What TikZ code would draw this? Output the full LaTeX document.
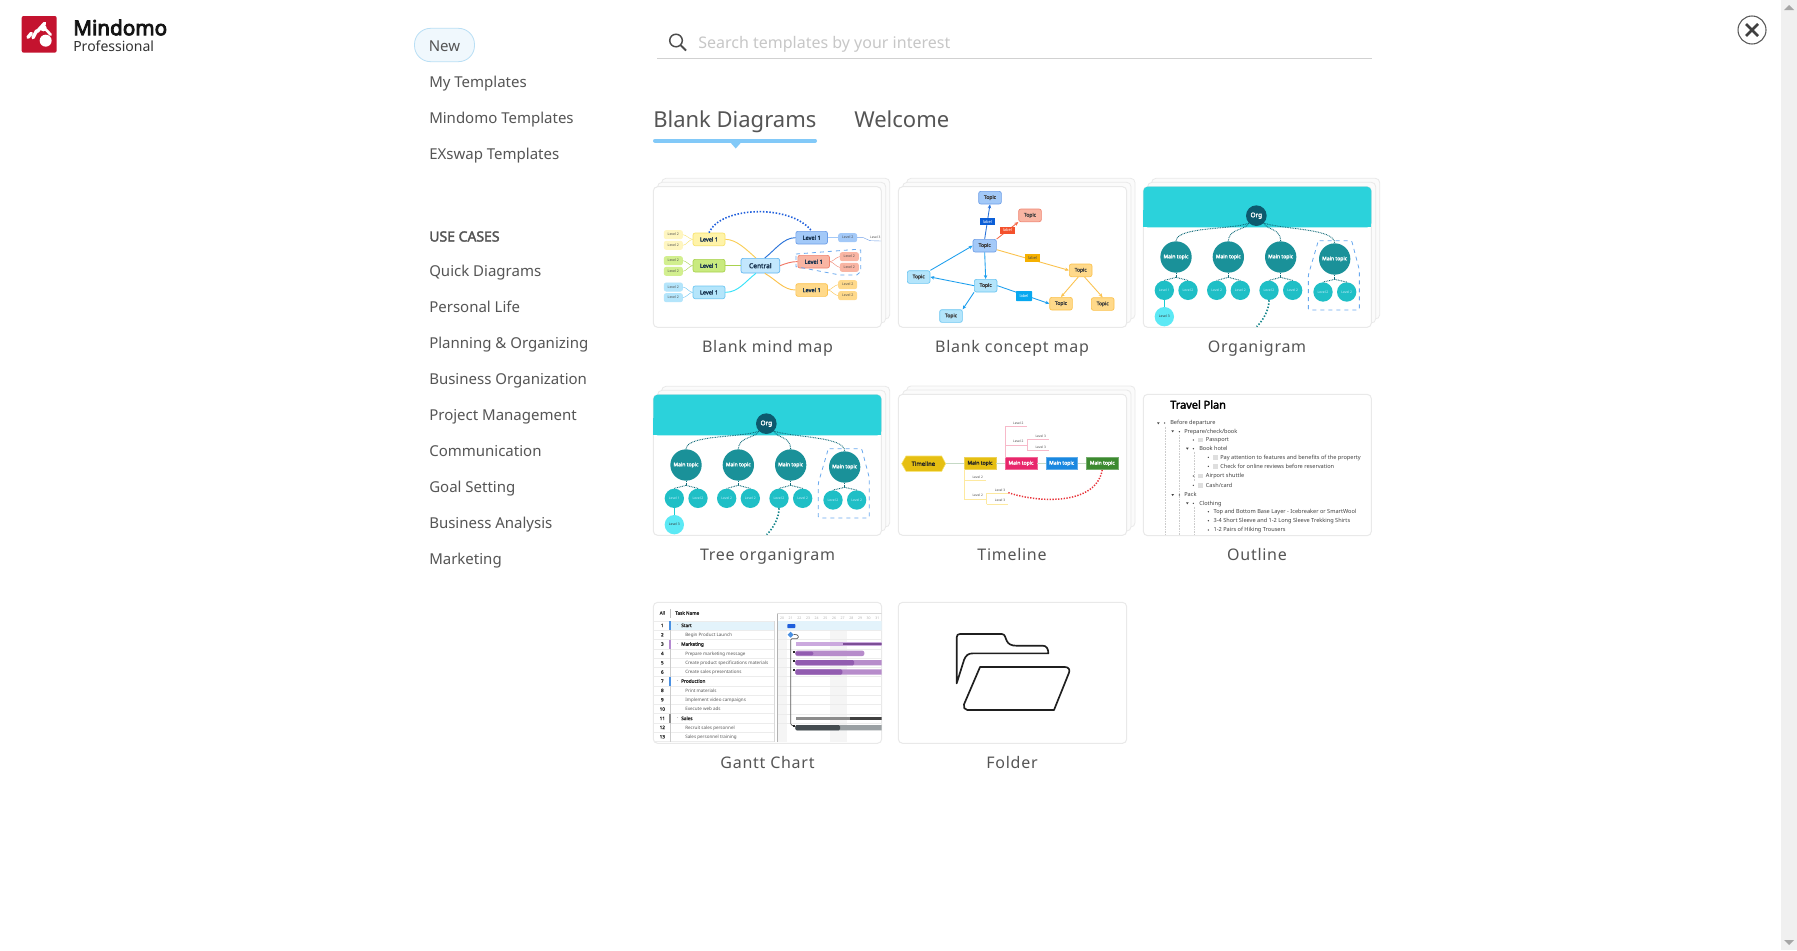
\documentclass[tikz,border=0pt]{standalone}
\usepackage{fontspec}
\setmainfont{Noto Sans}[BoldFont={Noto Sans},BoldFeatures={FakeBold=2.5}]
\usetikzlibrary{arrows.meta,shapes.geometric}
\definecolor{menu}{HTML}{555555}
\definecolor{cardl}{HTML}{E9E9E9}
\definecolor{backf}{HTML}{FBFBFB}
\definecolor{cyanh}{HTML}{2BD2DB}
\definecolor{orgd}{HTML}{0D5A6E}
\definecolor{mainc}{HTML}{1A9199}
\definecolor{levc}{HTML}{1FBFC6}
\definecolor{lev3}{HTML}{5CE9F5}
\definecolor{dashb}{HTML}{6AA9EF}
\definecolor{yelF}{HTML}{FFF3A8}\definecolor{yelD}{HTML}{F7E26B}
\definecolor{yel2}{HTML}{FFF6C0}
\definecolor{grnF}{HTML}{C9EA7F}\definecolor{grnD}{HTML}{A9D24E}
\definecolor{grn2}{HTML}{D2EF8F}
\definecolor{skyF}{HTML}{B4E5FB}\definecolor{skyD}{HTML}{6CC6F2}
\definecolor{bluF}{HTML}{A3C9F8}\definecolor{bluD}{HTML}{6F9FE8}
\definecolor{redF}{HTML}{F9B5A3}\definecolor{redD}{HTML}{F08470}
\definecolor{oraF}{HTML}{FFD98A}\definecolor{oraD}{HTML}{FBC24D}
\definecolor{cenF}{HTML}{C3E7FD}\definecolor{cenD}{HTML}{5FB5F0}
\definecolor{navy}{HTML}{17324F}
\definecolor{logo}{HTML}{C4132F}
\definecolor{purL}{HTML}{B78CCB}\definecolor{purD}{HTML}{925CB0}\definecolor{purS}{HTML}{CBA9DE}
\definecolor{rowl}{HTML}{ECECEC}
\definecolor{orgl}{HTML}{0F6A78}
\definecolor{tabl}{HTML}{82C9F8}
\definecolor{pillF}{HTML}{F0F8FD}\definecolor{pillD}{HTML}{B9DFF5}
\definecolor{gold}{HTML}{E6BF12}\definecolor{pinkm}{HTML}{E8276B}\definecolor{bluem}{HTML}{1A88E0}\definecolor{grnm}{HTML}{3C8A30}
\definecolor{tlline}{HTML}{C5D9C5}\definecolor{tlpink}{HTML}{F7B9C9}\definecolor{tlyel}{HTML}{FDE9A0}\definecolor{tlred}{HTML}{E8333A}
\definecolor{labB}{HTML}{0B5ED7}\definecolor{labR}{HTML}{F4512C}\definecolor{labO}{HTML}{F5B000}\definecolor{labS}{HTML}{07A8F0}
\definecolor{cblue}{HTML}{2A73D9}\definecolor{csky}{HTML}{1E9FEE}
\definecolor{rowh}{HTML}{E3F3FB}\definecolor{barblue}{HTML}{4A90E2}\definecolor{barp}{HTML}{B48AD0}\definecolor{shadec}{HTML}{F5F5F5}
\definecolor{greyL}{HTML}{9AA0A3}\definecolor{greyD}{HTML}{444C50}\definecolor{msblue}{HTML}{1F5FDC}
\newcommand{\fs}[1]{\fontsize{#1}{#1}\selectfont}
\newfontface\spaced[LetterSpace=4.5]{Noto Sans}
\newfontface\brandf[FakeBold=4]{Noto Sans}
\tikzset{
  tx/.style={inner sep=0pt,text height=#1,text depth=0pt},
  tx/.default=9pt,
  menuitem/.style={tx,anchor=west,text=menu,font=\fs{11.25}},
  cardlabel/.style={tx,text=menu,font=\spaced\fs{12}},
  tabtext/.style={tx=12.5pt,text=menu,font=\fs{16.5}},
  bx/.style n args={4}{minimum width=#1*.25pt,minimum height=#2*.25pt,fill=#3,draw=#4,rounded corners=1.6pt,inner sep=0pt,line width=.5pt},
  lone/.style={font=\bfseries\fs{4.2},text=navy},
  ltwo/.style={font=\fs{2.6},text=black!70},
  ctopic/.style={font=\bfseries\fs{3.7},text=black!75},
  clabel/.style={font=\fs{3},inner sep=0pt},
  circ/.style n args={2}{circle,inner sep=0pt,minimum size=#1*.25pt,fill=#2},
  mtopic/.style={font=\bfseries\fs{3.8},text=white},
  ltxt/.style={font=\fs{2.5},text=white!80!cyan},
  mmedge/.style={line width=.7pt},
  arr/.style={line width=.65pt,-{Stealth[length=3pt,width=2.6pt]}},
  orgdot/.style={orgl,line width=.7pt,dash pattern=on .6pt off .65pt},
  tlbox/.style n args={2}{minimum width=95*.25pt,minimum height=34*.25pt,fill=#1,draw=#1!70!white,line width=.4pt,inner sep=0pt,font=\bfseries\fs{3.8},text=#2},
  tlev/.style={font=\fs{2.4},text=black!70,inner sep=0pt},
  ol/.style={anchor=west,tx=2.9pt,font=\fs{4.2},text=black!75},
  gt/.style={anchor=west,tx=2.6pt,font=\fs{3.4},text=black!65},
  gb/.style={anchor=west,tx=2.6pt,font=\bfseries\fs{3.5},text=black!80},
  gn/.style={tx=2.5pt,font=\bfseries\fs{3.4},text=black!80},
  gd/.style={tx=2pt,font=\fs{2.6},text=black!30},
  bul/.style={circle,fill=black!75,inner sep=0pt,minimum size=1.1pt},
  chk/.style={fill=black!13},
  cardbox/.style={draw=cardl,line width=.75pt,rounded corners=3.2pt,fill=white},
  cardback/.style={draw=cardl,line width=.6pt,rounded corners=3.2pt,fill=backf},
}
\newcommand{\stack}[4]{%
  \draw[cardback,shift={(25,-25)}] (#1,#2) rectangle (#3,#4);
  \draw[cardback,shift={(13,-13)}] (#1,#2) rectangle (#3,#4);
  \draw[cardbox] (#1,#2) rectangle (#3,#4);}
\newcommand{\orgchart}[1]{%
  \stack{40}{50}{724}{472}
  \fill[cyanh,rounded corners=3.2pt] (40,172) -- (40,50) -- (724,50) -- (724,172) -- cycle;
  \fill[cyanh] (40,120) rectangle (724,172);
  \node[circ={62}{orgd},font=\bfseries\fs{4.8},text=white] (#1org) at (379,137) {Org};
  \node[circ={94}{mainc},mtopic] (#1m1) at (138,261) {Main topic};
  \node[circ={94}{mainc},mtopic] (#1m2) at (295,261) {Main topic};
  \node[circ={94}{mainc},mtopic] (#1m3) at (452,261) {Main topic};
  \node[circ={94}{mainc},mtopic] (#1m4) at (614,267) {Main topic};
  \node[circ={58}{levc},ltxt] (#1a1) at (103,361) {Level 1};
  \node[circ={58}{levc},ltxt] (#1a2) at (174,361) {Level 2};
  \node[circ={58}{levc},ltxt] (#1b1) at (260,361) {Level 2};
  \node[circ={58}{levc},ltxt] (#1b2) at (331,361) {Level 2};
  \node[circ={58}{levc},ltxt] (#1c1) at (417,361) {Level 2};
  \node[circ={58}{levc},ltxt] (#1c2) at (488,361) {Level 2};
  \node[circ={58}{levc},ltxt] (#1d1) at (579,366) {Level 2};
  \node[circ={58}{levc},ltxt] (#1d2) at (650,366) {Level 2};
  \node[circ={58}{lev3},font=\fs{2.5},text=black!80] (#1e) at (103,440) {Level 3};
  \coordinate (#1free) at (380,470);
  \draw[orgdot] (#1org.south west) .. controls (300,180) and (140,170) .. (#1m1.north);
  \draw[orgdot] (#1org.south west) .. controls (350,180) and (295,175) .. (#1m2.north);
  \draw[orgdot] (#1org.south east) .. controls (410,180) and (452,175) .. (#1m3.north);
  \draw[orgdot] (#1org.south east) .. controls (470,180) and (612,175) .. (#1m4.north);
  \coordinate (#1ja) at (138,322);\coordinate (#1jb) at (295,322);\coordinate (#1jc) at (452,322);\coordinate (#1jd) at (614,328);
  \foreach \p/\q in {ja/a1,ja/a2,jb/b1,jb/b2,jc/c1,jc/c2,jd/d1,jd/d2}{
    \draw[orgdot] (#1\p) -- (#1\q.north);}
  \draw[orgdot] (#1m1.south) -- (#1ja);\draw[orgdot] (#1m2.south) -- (#1jb);\draw[orgdot] (#1m3.south) -- (#1jc);\draw[orgdot] (#1m4.south) -- (#1jd);
  \draw[levc!80!cyan,line width=.6pt] (#1a1.south) -- (#1e.north);
  \draw[levc!70!black,line width=1.2pt,dash pattern=on 1.1pt off 1.3pt] (#1c1.south) .. controls (417,420) and (400,450) .. (#1free);
  \draw[dashb,line width=.6pt,dashed,rounded corners=1pt] (565,212) -- (665,212) -- (688,300) -- (688,420) -- (535,420) -- (535,315) -- cycle;
}
\begin{document}
\begin{tikzpicture}[x=.75pt,y=-.75pt]
\useasboundingbox (0,0) rectangle (1797,950);
\fill[white] (0,0) rectangle (1797,950);
% scrollbar
\fill[black!6] (1781,0) rectangle (1797,950);
\fill[black!35] (1784,10) -- (1794,10) -- (1789,5) -- cycle;
\fill[black!35] (1784,940) -- (1794,940) -- (1789,945) -- cycle;
% logo
\begin{scope}[x=.25pt,y=-.25pt]
\fill[logo,rounded corners=1.5pt] (65,48) -- (170,48) -- (170,158) -- (65,158) -- cycle;
\fill[white] (137,122) circle (18);
\fill[white] (130,84) circle (10);
\draw[white,line width=2.6pt,line cap=round] (84,112) -- (94,100);
\draw[white,line width=2.6pt,line cap=round] (99,113) -- (110,92);
\draw[white,line width=2.6pt,line cap=round] (112,94) -- (134,70);
\draw[white,line width=2pt,line cap=round] (137,88) -- (152,104);
\end{scope}
\node[anchor=west,tx=10.8pt,font=\brandf\fs{15.5},text=black!92] (brand) at (73,28) {Mindomo};
\node[anchor=west,tx=7.6pt,font=\fs{10.5},text=black!80] (edition) at (73,46) {Professional};
% close
\node[circle,draw=black!65,line width=.8pt,minimum size=21pt,inner sep=0pt] (close) at (1752,30) {};
\draw[black!75,line width=2pt] (1746,24) -- (1758,36) (1758,24) -- (1746,36);
% menu
\node[draw=pillD,fill=pillF,line width=.6pt,rounded corners=12pt,minimum width=45pt,minimum height=25pt,inner sep=0pt] (newbtn) at (444.5,45) {};
\node[tx,text=menu,font=\fs{11.25}] (newtxt) at (444.5,45) {New};
\node[menuitem] (i1) at (429,81.5) {My Templates};
\node[menuitem] (i2) at (429,117.5) {Mindomo Templates};
\node[menuitem] (i3) at (429,153.5) {EXswap Templates};
\node[menuitem,font=\bfseries\fs{10.5}] (uc) at (429,235.5) {USE CASES};
\node[menuitem] (u1) at (429,270.5) {Quick Diagrams};
\node[menuitem] (u2) at (429,306.5) {Personal Life};
\node[menuitem] (u3) at (429,342.5) {Planning \& Organizing};
\node[menuitem] (u4) at (429,378.5) {Business Organization};
\node[menuitem] (u5) at (429,414.5) {Project Management};
\node[menuitem] (u6) at (429,450.5) {Communication};
\node[menuitem] (u7) at (429,486.5) {Goal Setting};
\node[menuitem] (u8) at (429,522.5) {Business Analysis};
\node[menuitem] (u9) at (429,558.5) {Marketing};
% search
\draw[black!70,line width=1.1pt] (676,40.5) circle (6.3);
\draw[black!70,line width=1.4pt] (680.6,45.2) -- (686,50.5);
\node[menuitem,text=black!22,font=\fs{12}] (search) at (698,42.5) {Search templates by your interest};
\draw[black!18,line width=.9pt] (657,58.5) -- (1372,58.5);
% tabs
\node[tabtext,anchor=west] (tab1) at (653,119) {Blank Diagrams};
\node[tabtext,anchor=west] (tab2) at (854,119) {Welcome};
\draw[tabl,line width=3pt,line cap=round] (655,140.7) -- (815,140.7);
\fill[tabl] (730,142) -- (741.5,142) -- (735.7,148.5) -- cycle;
% ---------- card labels
\node[cardlabel] (c1) at (767.5,346.5) {Blank mind map};
\node[cardlabel] (c2) at (1012,346.5) {Blank concept map};
\node[cardlabel] (c3) at (1257,346.5) {Organigram};
\node[cardlabel] (c4) at (767.5,554.5) {Tree organigram};
\node[cardlabel] (c5) at (1012,554.5) {Timeline};
\node[cardlabel] (c6) at (1257,554.5) {Outline};
\node[cardlabel] (c7) at (767.5,762) {Gantt Chart};
\node[cardlabel] (c8) at (1012,762) {Folder};
% ---------- mind map
\begin{scope}[shift={(640,170)},x=.25pt,y=-.25pt]
\stack{40}{50}{724}{472}
\node[bx={116}{44}{cenF}{cenD},font=\bfseries\fs{5},text=navy] (cen) at (361,287) {Central};
\node[bx={96}{38}{yelF}{yelD},lone] (ly) at (207,208) {Level 1};
\node[bx={96}{38}{grnF}{grnD},lone] (lg) at (207,287) {Level 1};
\node[bx={96}{38}{skyF}{skyD},lone] (ls) at (207,367) {Level 1};
\node[bx={95}{38}{bluF}{bluD},lone] (lb) at (515,203) {Level 1};
\node[bx={95}{38}{redF}{redD},lone] (lr) at (521,275) {Level 1};
\node[bx={95}{38}{oraF}{oraD},lone] (lo) at (515,360) {Level 1};
\foreach \n/\a/\b/\c in {y1/100/194/yel2,y2/100/226/yel2,g1/100/272/grn2,g2/100/304/grn2,s1/100/351/skyF,s2/100/383/skyF,b1/623/203/bluF,r1/628/260/redF,r2/628/292/redF,o1/623/344/oraF,o2/623/377/oraF}{
  \node[bx={55}{25}{\c}{\c},ltwo] (\n) at (\a,\b) {Level 2};}
\node[tlev] (b3) at (706,203) {Level 3};
\coordinate (b3end) at (723,213);
\draw[mmedge,yelD!80!orange] (cen.120) .. controls (320,240) and (290,208) .. (ly.east);
\draw[mmedge,grnD,line width=1.1pt] (cen.west) -- (lg.east);
\draw[mmedge,skyD!50!cyan] (cen.240) .. controls (315,335) and (295,367) .. (ls.east);
\draw[mmedge,cblue] (cen.60) .. controls (405,240) and (430,203) .. (lb.west);
\draw[mmedge,redD!90!red] (cen.east) .. controls (440,280) and (450,275) .. (lr.west);
\draw[mmedge,oraD] (cen.-60) .. controls (410,330) and (430,360) .. (lo.west);
\foreach \u/\v/\c in {ly/y1/yelD,ly/y2/yelD,lg/g1/grnD,lg/g2/grnD,ls/s1/skyD,ls/s2/skyD}{
  \draw[\c,line width=.3pt] (\u.west) .. controls +(-10,0) and +(10,0) .. (\v.east);}
\foreach \u/\v/\c in {lb/b1/bluF,lr/r1/redD,lr/r2/redD,lo/o1/oraD,lo/o2/oraD}{
  \draw[\c,line width=.3pt] (\u.east) .. controls +(10,0) and +(-10,0) .. (\v.west);}
\draw[bluD,line width=.3pt] (b1.east) -- (670,203) -- (690,212) -- (b3end);
\draw[msblue,line width=1.2pt,dash pattern=on 1.1pt off 1.3pt] (ly.north) .. controls (240,110) and (450,100) .. (lb.north);
\draw[dashb,line width=.6pt,dashed] (468,252) -- (650,238) -- (662,240) -- (662,305) -- (650,315) -- (600,315) -- (468,290) -- cycle;
\end{scope}
% ---------- concept map
\begin{scope}[shift={(890,170)},x=.25pt,y=-.25pt]
\stack{25}{50}{710}{472}
\node[bx={68}{38}{bluF}{bluD},ctopic] (t1) at (300,83) {Topic};
\node[bx={68}{38}{redF}{redD},ctopic] (t2) at (420,136) {Topic};
\node[bx={70}{38}{bluF}{bluD},ctopic] (t3) at (284,227) {Topic};
\node[bx={68}{38}{oraF}{oraD},ctopic] (t4) at (572,301) {Topic};
\node[bx={68}{38}{skyF}{skyD},ctopic] (t5) at (86,321) {Topic};
\node[bx={68}{38}{skyF}{skyD},ctopic] (t6) at (287,347) {Topic};
\node[bx={68}{38}{oraF}{oraD},ctopic] (t7) at (513,401) {Topic};
\node[bx={68}{38}{oraF}{oraD},ctopic] (t8) at (638,402) {Topic};
\node[bx={68}{38}{skyF}{skyD},ctopic] (t9) at (183,438) {Topic};
\draw[arr,cblue] (t3.north) -- (t1.south);
\draw[arr,labR!85!white] (t3.north east) -- (t2.south west);
\draw[arr,oraD] ([yshift=-3pt]t3.east) -- (t4.west);
\draw[arr,oraD] (t4.250) -- (t7.north);
\draw[arr,oraD] (t4.-60) -- (t8.north);
\draw[arr,csky] (t3.south) -- (t6.north);
\draw[arr,csky] (t6.west) -- (t5.east);
\draw[arr,csky] (t5.north east) -- (t3.west);
\draw[arr,csky] (t6.east) -- (t7.west);
\draw[arr,csky] (t6.south west) -- (t9.north east);
\node[clabel,fill=labB,text=white,minimum width=11pt,minimum height=5.5pt] (lab1) at (292,155) {label};
\node[clabel,fill=labR,text=white,minimum width=11pt,minimum height=5.5pt] (lab2) at (352,181) {label};
\node[clabel,fill=labO,text=black!70,minimum width=11pt,minimum height=5.5pt] (lab3) at (428,264) {label};
\node[clabel,fill=labS,text=white,minimum width=12pt,minimum height=7.5pt,rounded corners=.5pt] (lab4) at (402,378) {label};
\end{scope}
% ---------- organigrams
\begin{scope}[shift={(1130,170)},x=.25pt,y=-.25pt]
\orgchart{p}
\end{scope}
\begin{scope}[shift={(640,378)},x=.25pt,y=-.25pt]
\orgchart{q}
\end{scope}
% ---------- timeline
\begin{scope}[shift={(890,380)},x=.25pt,y=-.25pt]
\stack{25}{43}{710}{466}
\fill[gold,draw=yelD,line width=.4pt] (35,251) -- (48,228) -- (155,228) -- (167,251) -- (155,274) -- (48,274) -- cycle;
\node[inner sep=0pt,font=\bfseries\fs{4.4},text=black!85] (tl) at (100,251) {Timeline};
\node[tlbox={gold}{black!85}] (m1) at (270,250) {Main topic};
\node[tlbox={pinkm}{white}] (m2) at (393,250) {Main topic};
\node[tlbox={bluem}{white}] (m3) at (515,250) {Main topic};
\node[tlbox={grnm}{white}] (m4) at (637,250) {Main topic};
\draw[tlline,line width=.5pt] (167,250) -- (m1.west);
\draw[tlline,line width=.5pt] (m1.east) -- (m2.west);
\draw[tlline,line width=.5pt] (m2.east) -- (m3.west);
\draw[tlline,line width=.5pt] (m3.east) -- (m4.west);
\node[tlev] (p1) at (385,131) {Level 2};
\node[tlev] (p2) at (385,185) {Level 2};
\node[tlev] (p3) at (452,169) {Level 3};
\node[tlev] (p4) at (452,202) {Level 3};
\node[tlev] (y1t) at (263,292) {Level 2};
\node[tlev] (y2t) at (263,347) {Level 2};
\node[tlev] (y3t) at (330,330) {Level 3};
\node[tlev] (y4t) at (330,362) {Level 3};
\draw[tlpink,line width=.5pt] (346,233) -- (346,140) -- (410,140);
\draw[tlpink,line width=.5pt] (346,195) -- (412,195);
\draw[tlpink,line width=.5pt] (412,211) -- (412,179) -- (478,179);
\draw[tlpink,line width=.5pt] (412,211) -- (478,211);
\draw[tlyel,line width=.5pt] (223,267) -- (223,357) -- (290,357);
\draw[tlyel,line width=.5pt] (223,302) -- (288,302);
\draw[tlyel,line width=.5pt] (290,373) -- (290,340) -- (355,340);
\draw[tlyel,line width=.5pt] (290,373) -- (355,373);
\draw[tlred,line width=1.1pt,dash pattern=on 1pt off 1.1pt] (355,338) .. controls (450,370) and (620,375) .. (m4.south);
\end{scope}
% ---------- outline
\begin{scope}[shift={(1130,385)},x=.25pt,y=-.25pt]
\draw[cardbox] (40,28) rectangle (724,452);
\node[anchor=west,tx=6pt,font=\bfseries\fs{8.2},text=black] (ot) at (120,59) {Travel Plan};
\draw[black!20,line width=.3pt,dash pattern=on .6pt off .6pt] (105,125) -- (105,450) (148,150) -- (148,450) (193,200) -- (193,290) (193,365) -- (193,450);
\foreach \x/\y/\tt in {120/114/Before departure,162/140/Prepare\slash check\slash book,227/165/Passport,207/191/Book hotel,270/217/Pay attention to features and benefits of the property,270/244/Check for online reviews before reservation,227/273/Airport shuttle,227/301/Cash\slash card,162/330/Pack,207/355/Clothing,250/380/Top and Bottom Base Layer - Icebreaker or SmartWool,250/407/3-4 Short Sleeve and 1-2 Long Sleeve Trekking Shirts,250/435/1-2 Pairs of Hiking Trousers}{
  \node[ol] (ol\y) at (\x,\y) {\tt};}
\foreach \x/\y in {104/114,148/140,190/165,190/191,235/217,235/244,190/273,190/301,148/330,190/355,235/380,235/407,235/435}{
  \node[bul] (ob\y) at (\x,\y) {};}
\foreach \x/\y in {85/114,128/138,172/190,128/329,172/354}{
  \fill[black!75] (\x-4,\y-2) -- (\x+4,\y-2) -- (\x,\y+4) -- cycle;}
\foreach \x/\y in {212/165,256/217,256/244,212/273,212/301}{
  \fill[chk] (\x-7,\y-7) rectangle (\x+7,\y+7);}
\end{scope}
% ---------- gantt
\begin{scope}[shift={(645,595)},x=.25pt,y=-.25pt]
\draw[cardbox] (25,22) rectangle (710,445);
\begin{scope}
\clip[rounded corners=3.2pt] (25,22) rectangle (710,445);
\fill[shadec] (397,78) rectangle (425,440);
\fill[shadec] (555,78) rectangle (606,440);
\fill[rowh] (78,78) rectangle (388,107);
\fill[rowh] (397,78) rectangle (710,107);
\foreach \k in {0,...,13}{
  \draw[rowl,line width=.35pt] (25,78+\k*27.8) -- (388,78+\k*27.8);}
\foreach \k in {1,...,11}{
  \draw[rowl,line width=.25pt] (397,78+\k*27.8) -- (710,78+\k*27.8);}
\draw[black!25,line width=.4pt] (76,42) -- (76,70);
\draw[black!20,line width=.4pt] (76,78) -- (76,440);
\draw[black!15,line width=.5pt] (388,78) -- (388,440);
\draw[black!30,line width=.5pt] (397,55) -- (397,440);
\draw[black!15,line width=.4pt] (397,55) -- (710,55);
\fill[barblue] (73,78) rectangle (77,106);
\fill[barp] (73,134) rectangle (77,162);
\fill[barblue] (73,245) rectangle (77,273);
\fill[black!45] (73,356) rectangle (77,384);
\node[gn] (allh) at (52,54) {All};
\node[gb] (taskh) at (90,54) {Task Name};
\foreach \d [count=\i from 0] in {20,21,22,23,24,25,26,27,28,29,30,31}{
  \node[gd] (gd\d) at (411+26*\i,68) {\d};}
\foreach \n/\y in {1/91,2/119,3/147,4/175,5/203,6/231,7/258,8/286,9/314,10/342,11/370,12/397,13/425}{
  \node[gn] (gn\n) at (52,\y) {\n};}
\foreach \y/\tt in {91/Start,147/Marketing,258/Production,370/Sales}{
  \node[gb] (gh\y) at (108,\y) {\tt};
  \node[tx=2pt,font=\fs{3.4},text=black!60] (gm\y) at (98,\y) {-};}
\foreach \y/\tt in {119/Begin Product Launch,175/Prepare marketing message,203/Create product specifications materials,231/Create sales presentations,286/Print materials,314/Implement video campaigns,342/Execute web ads,397/Recruit sales personnel,425/Sales personnel training}{
  \node[gt] (gt\y) at (120,\y) {\tt};}
% bars
\fill[msblue,rounded corners=.5pt] (427,87) rectangle (451,99);
\fill[barblue] (437,110) -- (446,119) -- (437,128) -- (428,119) -- cycle;
\draw[black!65,line width=.5pt,rounded corners=1pt] (446,118) -- (460,120) -- (460,131) -- (437,131) -- (437,390) -- (448,393);
\fill[purS] (453,142) rectangle (710,152);
\fill[purD!85!black] (595,143) rectangle (710,151);
\fill[purL,rounded corners=1.5pt] (451,167) rectangle (658,183);
\fill[purD,rounded corners=1pt] (451,170) rectangle (505,181);
\fill[purL,rounded corners=1.5pt] (451,195) rectangle (720,211);
\fill[purD,rounded corners=1pt] (451,195) rectangle (627,211);
\fill[purL,rounded corners=1.5pt] (451,223) rectangle (720,239);
\fill[purD,rounded corners=1pt] (451,223) rectangle (592,239);
\fill[black!45] (453,365) rectangle (615,375);
\fill[black!75] (615,365) rectangle (710,375);
\fill[greyL,rounded corners=1pt] (451,390) rectangle (720,406);
\fill[greyD,rounded corners=1pt] (451,390) rectangle (585,406);
\foreach \y in {170,198,225,392}{
  \fill[black!85] (445,\y-3) rectangle (451,\y+3);}
\end{scope}
\end{scope}
% ---------- folder
\begin{scope}[shift={(890,595)},x=.25pt,y=-.25pt]
\draw[cardbox] (25,22) rectangle (710,445);
\draw[black!88,line width=1.25pt,line join=round] (200,265) -- (200,127) .. controls (200,120) and (204,117) .. (210,117) -- (335,117) .. controls (346,117) and (345,128) .. (350,137) .. controls (355,148) and (365,152) .. (378,152) -- (458,152) .. controls (470,152) and (475,162) .. (475,175) -- (250,175) .. controls (235,175) and (228,180) .. (222,195) -- cycle;
\draw[black!88,line width=1.25pt,line join=round] (270,216) -- (525,216) .. controls (535,216) and (541,224) .. (537,233) -- (492,345) -- (232,345) .. controls (224,345) and (219,336) .. (222,328) -- cycle;
\end{scope}
\end{tikzpicture}
\end{document}
